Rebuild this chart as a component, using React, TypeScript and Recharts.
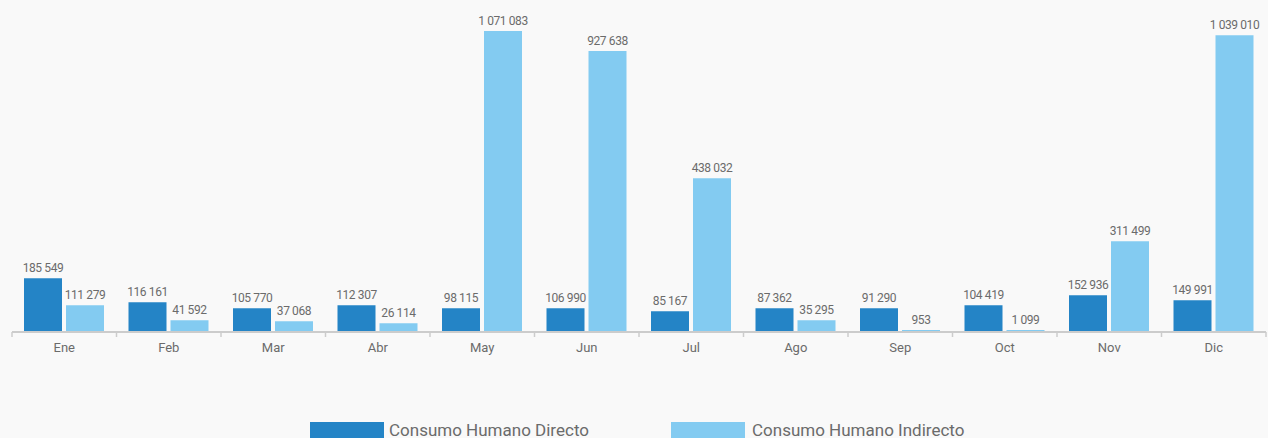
import { BarChart, Bar, XAxis, YAxis, LabelList } from "recharts";

const MONTHS = ["Ene", "Feb", "Mar", "Abr", "May", "Jun", "Jul", "Ago", "Sep", "Oct", "Nov", "Dic"];

// printed values above the bars
const DIRECTO_LABEL = [185549, 116161, 105770, 112307, 98115, 106990, 85167, 87362, 91290, 104419, 152936, 149991];
const INDIRECTO_LABEL = [111279, 41592, 37068, 26114, 1071083, 927638, 438032, 35295, 953, 1099, 311499, 1039010];

// bar lengths as drawn in the picture (same units, tallest bar = 1 071 083)
const DIRECTO_BAR = [188000, 102500, 81000, 91800, 81000, 81000, 70300, 81000, 81000, 91800, 127500, 109600];
const INDIRECTO_BAR = [91800, 38200, 34600, 27500, 1071083, 999700, 545200, 38200, 3600, 3600, 320300, 1055700];

const DARK = "#2484c6";
const LIGHT = "#83cbf1";
const TEXT = "#6b6b6b";
const FONT = "Roboto, 'Noto Sans', sans-serif";

const W = 1268;
const H = 438;
const LEFT = 12;
const RIGHT = 2;
const BAND = (W - LEFT - RIGHT) / MONTHS.length;

const data = MONTHS.map((m, i) => ({
  month: m,
  directo: DIRECTO_BAR[i],
  indirecto: INDIRECTO_BAR[i],
  directoLabel: DIRECTO_LABEL[i],
  indirectoLabel: INDIRECTO_LABEL[i],
}));

const fmt = (v: number) => String(v).replace(/\B(?=(\d{3})+(?!\d))/g, " ");

function MonthTick({ x, y, payload, index }: any) {
  return (
    <g>
      <line x1={x - BAND / 2} x2={x - BAND / 2} y1={y + 1} y2={y + 6} stroke="#cccccc" strokeWidth={1.5} />
      {index === MONTHS.length - 1 && (
        <line x1={x + BAND / 2} x2={x + BAND / 2} y1={y + 1} y2={y + 6} stroke="#cccccc" strokeWidth={1.5} />
      )}
      <text x={x} y={y + 21} textAnchor="middle" fill={TEXT} fontSize={13} fontFamily={FONT}>
        {payload.value}
      </text>
    </g>
  );
}

function ValueLabel({ x, y, width, value }: any) {
  return (
    <text
      x={x + width / 2}
      y={y - 6}
      textAnchor="middle"
      fill={TEXT}
      fontSize={12}
      fontFamily={FONT}
      letterSpacing={-0.4}
    >
      {fmt(value)}
    </text>
  );
}

export default function App() {
  return (
    <div style={{ position: "relative", width: W, height: H, background: "#f9f9f9" }}>
      <style>{"body{margin:0;background:#f9f9f9}"}</style>
      <BarChart
        width={W}
        height={H}
        data={data}
        margin={{ top: 31, right: RIGHT, left: LEFT, bottom: 77 }}
        barCategoryGap={12}
        barGap={4}
      >
        <XAxis
          dataKey="month"
          axisLine={{ stroke: "#cccccc", strokeWidth: 2, transform: "translate(0, 1)" }}
          tickLine={false}
          tickSize={0}
          tickMargin={0}
          height={30}
          interval={0}
          tick={<MonthTick />}
        />
        <YAxis hide domain={[0, "dataMax"]} />
        <Bar dataKey="directo" fill={DARK} isAnimationActive={false}>
          <LabelList dataKey="directoLabel" content={<ValueLabel />} />
        </Bar>
        <Bar dataKey="indirecto" fill={LIGHT} isAnimationActive={false}>
          <LabelList dataKey="indirectoLabel" content={<ValueLabel />} />
        </Bar>
      </BarChart>
      <div
        style={{
          position: "absolute",
          top: 420,
          left: 310,
          display: "flex",
          alignItems: "center",
          fontFamily: FONT,
          fontSize: 17,
          lineHeight: "20px",
          color: TEXT,
          whiteSpace: "nowrap",
        }}
      >
        <span style={{ width: 74, height: 17, background: DARK, display: "inline-block" }} />
        <span style={{ marginLeft: 5, width: 282 }}>Consumo Humano Directo</span>
        <span style={{ width: 74, height: 17, background: LIGHT, display: "inline-block" }} />
        <span style={{ marginLeft: 7 }}>Consumo Humano Indirecto</span>
      </div>
    </div>
  );
}
